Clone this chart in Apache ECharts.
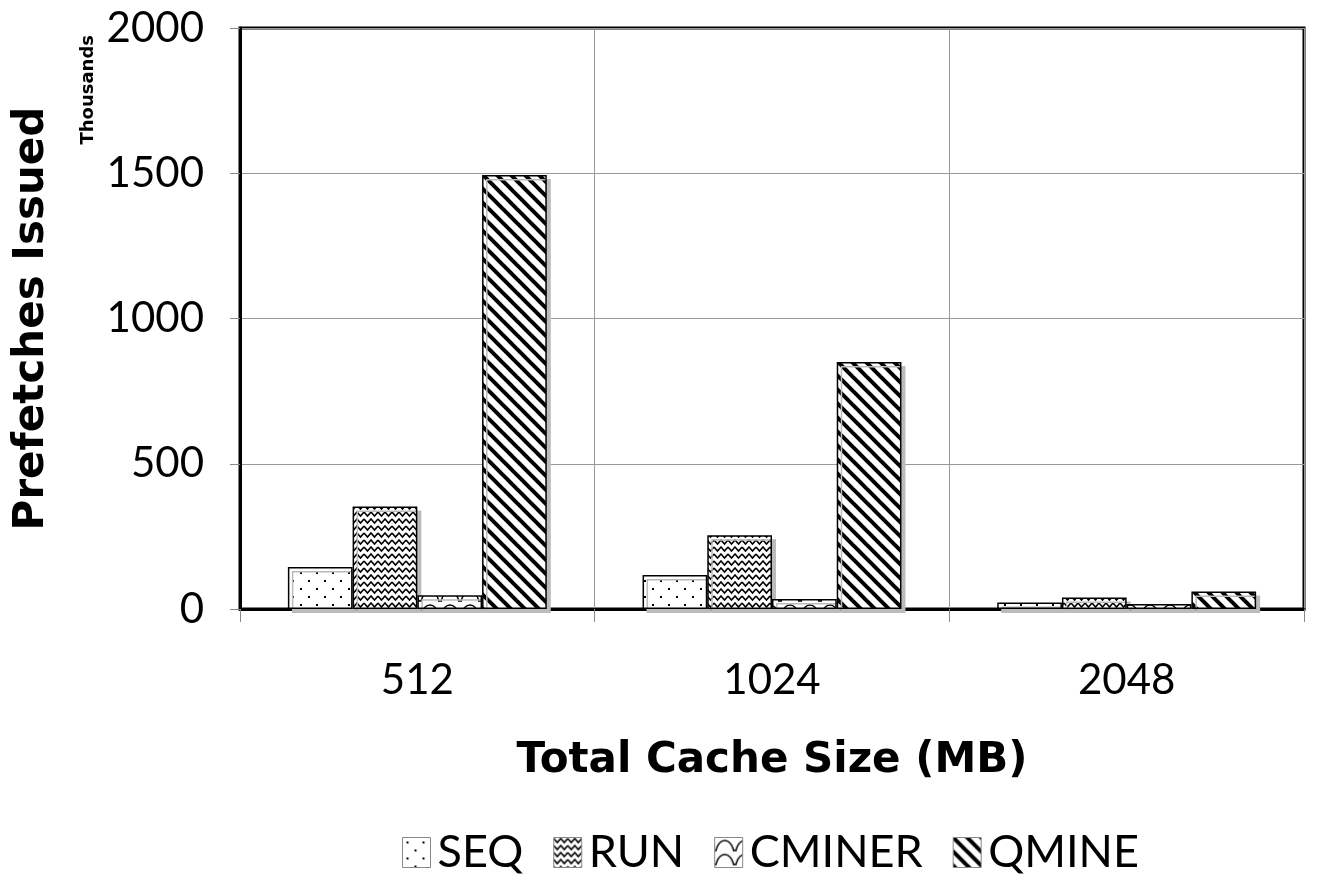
<!DOCTYPE html>
<html><head><meta charset="utf-8">
<script src="https://cdn.jsdelivr.net/npm/echarts@6/dist/echarts.min.js"></script>
<style>html,body{margin:0;padding:0;background:#fff}#c{width:1325px;height:884px}</style>
</head><body><div id="c"></div>
<script>
const categories = ['512', '1024', '2048'];
const seriesNames = ['SEQ', 'RUN', 'CMINER', 'QMINE'];
const seqValues = [145, 117, 22];
const runValues = [353, 254, 40];
const cminerValues = [47, 34, 17];
const qmineValues = [1494, 850, 60];
const yTicks = [0, 500, 1000, 1500, 2000];

function tile(w, h, draw) {
  const c = document.createElement('canvas');
  c.width = w; c.height = h;
  const g = c.getContext('2d');
  g.fillStyle = '#fff'; g.fillRect(0, 0, w, h);
  g.fillStyle = '#000'; g.strokeStyle = '#000';
  draw(g, w, h);
  return { image: c, repeat: 'repeat' };
}
const patSeq = tile(16, 16, g => { g.fillRect(4, 4, 2, 2); g.fillRect(12, 12, 2, 2); });
const patRun = tile(14, 7, g => {
  g.lineWidth = 1.6;
  g.beginPath(); g.moveTo(0, 1); g.lineTo(3.5, 5); g.lineTo(7, 1); g.lineTo(10.5, 5); g.lineTo(14, 1); g.stroke();
});
const patCminer = tile(20, 14, g => {
  g.lineWidth = 1.5;
  g.beginPath();
  g.moveTo(1, 13); g.quadraticCurveTo(4, 3, 10, 3); g.quadraticCurveTo(16, 3, 19, 13); g.stroke();
  g.beginPath(); g.moveTo(0, 13); g.lineTo(2, 13); g.moveTo(18, 13); g.lineTo(20, 13); g.stroke();
});
const patQmine = tile(14, 14, g => {
  g.lineWidth = 4;
  for (let k = -1; k <= 1; k++) {
    g.beginPath(); g.moveTo(k * 14 - 2, -2); g.lineTo(k * 14 + 16, 16); g.stroke();
  }
});
const pats = [patSeq, patRun, patCminer, patQmine];
const vals = [seqValues, runValues, cminerValues, qmineValues];
const FONT = 'Lato';
const BFONT = 'DejaVu Sans';

const chart = echarts.init(document.getElementById('c'), null, { renderer: 'canvas' });
chart.setOption({
  animation: false,
  grid: { left: 240, right: 21, top: 28, bottom: 275, show: true, borderColor: '#000', borderWidth: 3, backgroundColor: 'transparent' },
  legend: {
    bottom: 4, left: 397, itemWidth: 28, itemHeight: 30, itemGap: 30,
    icon: 'rect',
    itemStyle: { borderColor: '#888', borderWidth: 1, shadowBlur: 0, shadowOffsetX: 0, shadowOffsetY: 0, shadowColor: 'transparent' },
    textStyle: { fontFamily: FONT, fontSize: 45, color: '#000', padding: [0, 0, 0, 2] },
    data: seriesNames
  },
  graphic: [{
    type: 'text', left: 79, top: 35, rotation: Math.PI / 2,
    style: { text: 'Thousands', fontFamily: BFONT, fontWeight: 'bold', fontSize: 18, fill: '#000' }
  }],
  xAxis: {
    type: 'category', data: categories,
    axisLine: { lineStyle: { color: '#000', width: 3 } },
    axisTick: { show: true, length: 13, lineStyle: { color: '#888', width: 1 } },
    splitLine: { show: true, lineStyle: { color: '#999', width: 1 } },
    axisLabel: { fontFamily: FONT, fontSize: 42, color: '#000', margin: 50 },
    name: 'Total Cache Size (MB)', nameLocation: 'middle', nameGap: 131,
    nameTextStyle: { fontFamily: BFONT, fontWeight: 'bold', fontSize: 42, color: '#000' }
  },
  yAxis: {
    type: 'value', min: 0, max: 2000, interval: 500,
    axisLine: { show: true, lineStyle: { color: '#000', width: 3 } },
    axisTick: { show: true, length: 10, lineStyle: { color: '#888', width: 1 } },
    splitLine: { show: true, lineStyle: { color: '#999', width: 1 } },
    axisLabel: { fontFamily: FONT, fontSize: 42, color: '#000', margin: 36,
      formatter: v => yTicks.includes(v) ? String(v) : '' },
    name: 'Prefetches Issued', nameLocation: 'middle', nameGap: 187,
    nameTextStyle: { fontFamily: BFONT, fontWeight: 'bold', fontSize: 42, color: '#000' }
  },
  series: seriesNames.map((n, i) => ({
    name: n, type: 'bar', data: vals[i], barGap: '0%', barCategoryGap: '27%',
    itemStyle: { color: pats[i], borderColor: '#000', borderWidth: 1.5,
      shadowColor: '#bbb', shadowOffsetX: 4, shadowOffsetY: 4, shadowBlur: 0 }
  }))
});
</script></body></html>
